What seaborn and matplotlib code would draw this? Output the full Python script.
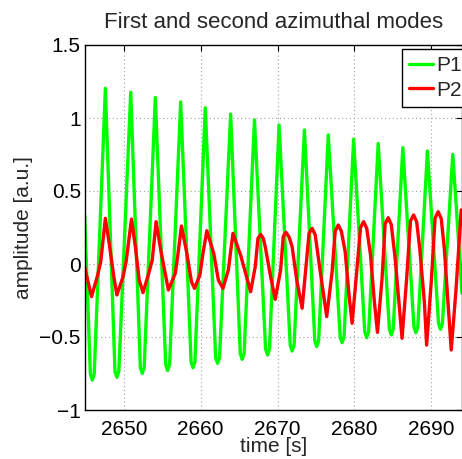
import matplotlib
matplotlib.use("Agg")
import matplotlib.pyplot as plt
import pandas as pd
import seaborn as sns

p1_time = [2644.9,
           2645.65, 2645.9, 2646.15, 2647.6,
           2648.85, 2649.1, 2649.35, 2650.9,
           2652.15, 2652.4, 2652.65, 2654.1,
           2655.45, 2655.7, 2655.95, 2657.4,
           2658.75, 2659.0, 2659.25, 2660.6,
           2661.95, 2662.2, 2662.45, 2663.9,
           2665.15, 2665.4, 2665.65, 2667.0,
           2668.45, 2668.7, 2668.95, 2670.2,
           2671.65, 2671.9, 2672.15, 2673.5,
           2674.85, 2675.1, 2675.35, 2676.6,
           2678.15, 2678.4, 2678.65, 2679.9,
           2681.35, 2681.6, 2681.85, 2683.1,
           2684.55, 2684.8, 2685.05, 2686.3,
           2687.75, 2688.0, 2688.25, 2689.5,
           2690.95, 2691.2, 2691.45, 2692.8,
           2694.0]
p1_amp = [0.34,
          -0.755, -0.795, -0.755, 1.203,
          -0.736, -0.776, -0.736, 1.176,
          -0.709, -0.749, -0.709, 1.14,
          -0.69, -0.73, -0.69, 1.11,
          -0.67, -0.71, -0.67, 1.07,
          -0.64, -0.68, -0.64, 1.027,
          -0.613, -0.653, -0.613, 0.986,
          -0.583, -0.623, -0.583, 0.952,
          -0.556, -0.596, -0.556, 0.918,
          -0.526, -0.566, -0.526, 0.884,
          -0.499, -0.539, -0.499, 0.854,
          -0.465, -0.505, -0.465, 0.826,
          -0.446, -0.486, -0.446, 0.797,
          -0.431, -0.471, -0.431, 0.774,
          -0.407, -0.447, -0.407, 0.751,
          -0.2]

p2_time = [2644.9, 2645.8, 2646.6, 2647.0, 2647.6, 2648.1, 2648.7, 2649.1,
           2649.9, 2650.3, 2651.0, 2651.5, 2652.0, 2652.5, 2653.3, 2653.7,
           2654.2, 2654.8, 2655.8, 2656.7, 2657.0, 2657.5, 2658.2, 2658.8,
           2659.2, 2659.9, 2660.3, 2660.8, 2661.7, 2662.3, 2662.9, 2663.6,
           2664.2, 2665.2, 2666.5, 2667.1, 2667.45, 2667.8, 2668.15, 2668.4,
           2669.1, 2669.7, 2670.4, 2670.75, 2671.1, 2671.5, 2671.9, 2672.5,
           2673.2, 2673.7, 2674.1, 2674.5, 2674.9, 2675.5, 2676.4, 2677.1,
           2677.5, 2677.9, 2678.3, 2678.8, 2679.3, 2679.7, 2680.3, 2680.8,
           2681.2, 2681.6, 2682.1, 2682.6, 2683.0, 2683.6, 2684.0, 2684.4,
           2684.8, 2685.3, 2686.2, 2686.8, 2687.3, 2687.7, 2688.1, 2688.5,
           2689.1, 2689.4, 2690.0, 2690.5, 2690.9, 2691.3, 2691.7, 2692.2,
           2692.6, 2693.2, 2693.9]
p2_amp = [-0.02, -0.224, -0.075, 0.016, 0.313, 0.14, -0.087, -0.212,
          -0.087, 0.016, 0.308, 0.118, -0.11, -0.196, -0.053, 0.027,
          0.29, 0.096, -0.178, -0.064, 0.05, 0.26, 0.073, -0.121,
          -0.167, -0.075, 0.073, 0.228, 0.073, -0.11, -0.167, -0.041,
          0.21, 0.06, -0.19, -0.018, 0.175, 0.203, 0.175, 0.118,
          -0.087, -0.242, -0.041, 0.19, 0.217, 0.185, 0.118, -0.11,
          -0.303, -0.018, 0.21, 0.244, 0.2, -0.03, -0.36, -0.053,
          0.225, 0.267, 0.225, 0.084, -0.212, -0.406, -0.053, 0.25,
          0.29, 0.245, 0.062, -0.258, -0.468, -0.098, 0.275, 0.317,
          0.27, 0.04, -0.509, -0.098, 0.295, 0.336, 0.29, 0.107,
          -0.258, -0.555, -0.121, 0.315, 0.358, 0.31, 0.107, -0.281,
          -0.589, -0.19, 0.37]

series_names = ["P1", "P2"]
series_colors = ["#00ff00", "#ff0000"]

x_ticks = [2650, 2660, 2670, 2680, 2690]
y_ticks = [-1, -0.5, 0, 0.5, 1, 1.5]
y_tick_labels = ["\u22121", "\u22120.5", "0", "0.5", "1", "1.5"]

title_text = "First and second azimuthal modes"
x_label = "time [s]"
y_label = "amplitude [a.u.]"

# ---- style ------------------------------------------------------------------
sns.set_theme(style="white")
plt.rcParams["font.family"] = ["Liberation Sans", "DejaVu Sans"]

df = pd.concat([
    pd.DataFrame({"time": p1_time, "amp": p1_amp, "mode": series_names[0]}),
    pd.DataFrame({"time": p2_time, "amp": p2_amp, "mode": series_names[1]}),
], ignore_index=True)

W, H = 462, 459
L, R, T, B = 85, 462, 45, 410
fig = plt.figure(figsize=(W / 100, H / 100), dpi=100)
ax = fig.add_axes([L / W, 1 - B / H, (R - L) / W, (B - T) / H])

sns.lineplot(data=df, x="time", y="amp", hue="mode",
             palette=dict(zip(series_names, series_colors)),
             estimator=None, sort=False, linewidth=2.4, ax=ax)
for ln in ax.get_lines():
    ln.set_solid_joinstyle("round")
    ln.set_solid_capstyle("round")

ax.set_xlim(2644.95, 2694.0)
ax.set_ylim(-1, 1.5)
ax.set_xticks(x_ticks)
ax.set_xticklabels([str(t) for t in x_ticks])
ax.set_yticks(y_ticks)
ax.set_yticklabels(y_tick_labels)

ax.grid(True, linestyle=(0, (1, 2.5)), color="#a0a0a0", linewidth=0.8)
ax.set_axisbelow(True)
for s in ax.spines.values():
    s.set_color("black")
    s.set_linewidth(1.0)
    s.set_visible(True)
ax.tick_params(direction="in", length=4, width=0.8, colors="black",
               top=True, right=True, labelsize=15)
ax.tick_params(axis="x", pad=7)
ax.tick_params(axis="y", pad=3)

ax.set_title(title_text, fontsize=16, pad=12)
ax.set_xlabel(x_label, fontsize=15, labelpad=-1)
ax.set_ylabel(y_label, fontsize=15, labelpad=5)

leg = ax.legend(loc="upper right", bbox_to_anchor=(1.0186, 0.989),
                borderaxespad=0, fontsize=15, frameon=True, fancybox=False,
                framealpha=1, edgecolor="black",
                handlelength=1.15, handletextpad=0.15, borderpad=0.35,
                labelspacing=0.25)
leg.get_frame().set_linewidth(1.0)
for h in leg.get_lines():
    h.set_linewidth(2.4)

fig.savefig("out.png", dpi=100)
